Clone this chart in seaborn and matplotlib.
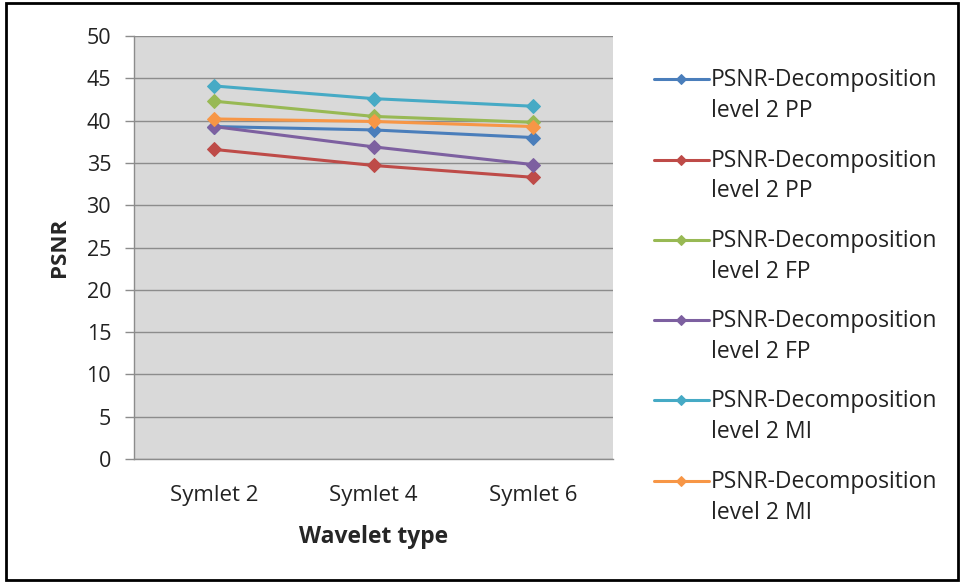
import matplotlib
matplotlib.use("Agg")
import matplotlib.pyplot as plt
import seaborn as sns
import pandas as pd
from matplotlib.patches import Rectangle
from matplotlib.legend_handler import HandlerLine2D

wavelets = ["Symlet 2", "Symlet 4", "Symlet 6"]
series_labels = [
    "PSNR-Decomposition\nlevel 2 PP",
    "PSNR-Decomposition\nlevel 2 PP",
    "PSNR-Decomposition\nlevel 2 FP",
    "PSNR-Decomposition\nlevel 2 FP",
    "PSNR-Decomposition\nlevel 2 MI",
    "PSNR-Decomposition\nlevel 2 MI",
]
pp_a = [39.3, 38.9, 38.0]
pp_b = [36.6, 34.7, 33.3]
fp_a = [42.3, 40.5, 39.8]
fp_b = [39.3, 36.9, 34.8]
mi_a = [44.1, 42.6, 41.7]
mi_b = [40.2, 39.9, 39.3]
series_values = [pp_a, pp_b, fp_a, fp_b, mi_a, mi_b]
colors = ["#4A7EBB", "#BE4B48", "#98B954", "#7D60A0", "#46AAC5", "#F79646"]
yticks = [0, 5, 10, 15, 20, 25, 30, 35, 40, 45, 50]


class FirstLineHandler(HandlerLine2D):
    """Legend handle aligned with the first line of a two-line label."""

    def __init__(self, shift, msize, **kw):
        super().__init__(**kw)
        self.shift = shift
        self.msize = msize

    def create_artists(self, legend, orig_handle, xdescent, ydescent,
                       width, height, fontsize, trans):
        arts = super().create_artists(legend, orig_handle, xdescent, ydescent,
                                      width, height, fontsize, trans)
        for a in arts:
            a.set_ydata([y + self.shift for y in a.get_ydata()])
            a.set_markersize(self.msize)
        return arts


sns.set_style("white")
plt.rcParams["font.family"] = ["Open Sans", "DejaVu Sans"]

fig = plt.figure(figsize=(9.6, 5.82), dpi=100)
ax = fig.add_axes([0.1396, 0.2113, 0.499, 0.7268])
ax.set_facecolor("#d9d9d9")

for lab, vals, c in zip(series_labels, series_values, colors):
    df = pd.DataFrame({"Wavelet type": wavelets, "PSNR": vals})
    sns.lineplot(data=df, x="Wavelet type", y="PSNR", ax=ax, color=c,
                 marker="D", markersize=7, markeredgecolor=c, linewidth=2.2,
                 label=lab, sort=False)

ax.set_xlim(-0.5, 2.5)
ax.set_ylim(0, 50)
ax.set_yticks(yticks)
ax.grid(axis="y", color="#8c8c8c", linewidth=1.0)
ax.set_axisbelow(True)
for s in ["top", "right"]:
    ax.spines[s].set_visible(False)
for s in ["left", "bottom"]:
    ax.spines[s].set_color("#8c8c8c")
    ax.spines[s].set_linewidth(1.0)
ax.tick_params(axis="y", which="both", left=True, length=6.5, width=1.0,
               color="#8c8c8c", labelsize=15.5, pad=10, labelcolor="#222222")
ax.tick_params(axis="x", bottom=False, labelsize=16, pad=15, labelcolor="#222222")
ax.set_xlabel("Wavelet type", fontsize=16.5, fontweight="bold", labelpad=14)
ax.set_ylabel("PSNR", fontsize=16, fontweight="bold", labelpad=12)

handles, labels = ax.get_legend_handles_labels()
hmap = {h: FirstLineHandler(shift=12.5, msize=5.5) for h in handles}
leg = ax.legend(handles, labels, loc="upper left", bbox_to_anchor=(1.047, 0.967),
                frameon=False, fontsize=16.5, handlelength=2.4,
                handletextpad=0.1, labelspacing=1.11, borderaxespad=0.4,
                handler_map=hmap)
for t in leg.get_texts():
    t.set_linespacing(1.38)
    t.set_color("#222222")

fig.patches.append(Rectangle((0.006, 0.004), 0.992, 0.99, transform=fig.transFigure,
                             fill=False, edgecolor="black", linewidth=2))

fig.savefig("out.png", dpi=100)
